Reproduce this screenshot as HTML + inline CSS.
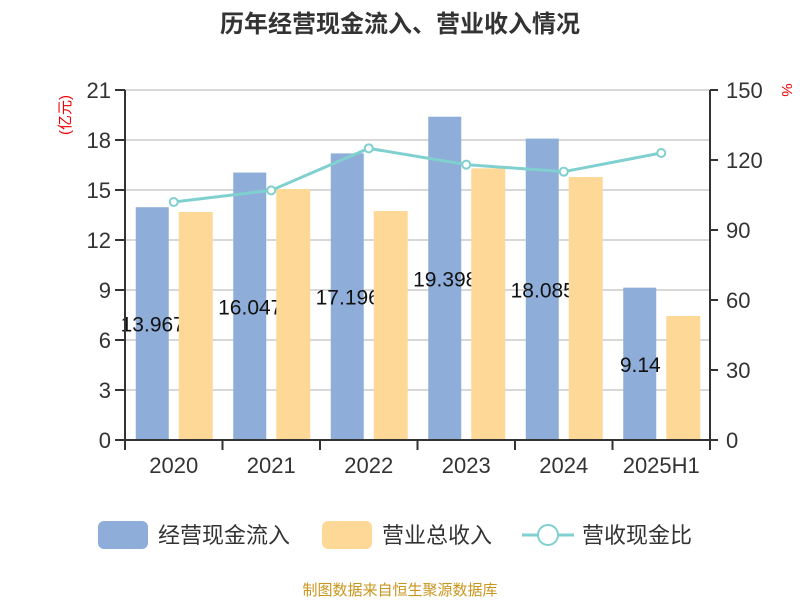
<!DOCTYPE html>
<html><head><meta charset="utf-8"><style>body{margin:0;background:#fff}svg{display:block;font-family:"Liberation Sans","Noto Sans CJK SC",sans-serif}</style></head>
<body>
<svg id="c" width="800" height="600">
<text x="400" y="32" text-anchor="middle" font-size="24" font-weight="bold" fill="#333">历年经营现金流入、营业收入情况</text>
<text transform="translate(70,115) rotate(-90)" text-anchor="middle" font-size="15" fill="#e00">(亿元)</text>
<text transform="translate(782,90) rotate(90)" text-anchor="middle" font-size="15" fill="#e00">%</text>
<g id="grid"></g><g id="bars"></g><g id="line"></g><g id="axes"></g>
<g>
<rect x="98" y="521" width="50" height="28" rx="6" fill="#8eadd9"/>
<text x="158" y="543" font-size="22" fill="#333">经营现金流入</text>
<rect x="322" y="521" width="50" height="28" rx="6" fill="#fed897"/>
<text x="382" y="543" font-size="22" fill="#333">营业总收入</text>
<line x1="522" y1="535" x2="574" y2="535" stroke="#80d0d0" stroke-width="3"/>
<circle cx="548" cy="535" r="10" fill="#fff" stroke="#80d0d0" stroke-width="2"/>
<text x="582" y="543" font-size="22" fill="#333">营收现金比</text>
</g>
<text x="400" y="595" text-anchor="middle" font-size="15" fill="#c8961e">制图数据来自恒生聚源数据库</text>
</svg>
<script>
const categories=["2020","2021","2022","2023","2024","2025H1"];
const cashInflow=[13.967,16.047,17.196,19.398,18.085,9.14];
const cashLabels=["13.967","16.047","17.196","19.398","18.085","9.14"];
const revenue=[13.68,15.06,13.74,16.3,15.78,7.44];
const ratio=[102,107,125,118,115,123];
const leftTicks=[0,3,6,9,12,15,18,21];
const rightTicks=[0,30,60,90,120,150];
const NS="http://www.w3.org/2000/svg";
const X0=125,X1=710,Y0=440,Y1=90;
const bw=(X1-X0)/categories.length;
const yL=v=>Y0-v/21*(Y0-Y1);
const yR=v=>Y0-v/150*(Y0-Y1);
const xc=i=>X0+bw*(i+0.5);
function mk(p,t,a){const e=document.createElementNS(NS,t);for(const k in a)e.setAttribute(k,a[k]);document.getElementById(p).appendChild(e);return e;}
leftTicks.forEach(v=>{
 if(v>0){const g=mk("grid","line",{x1:X0,x2:X1,y1:yL(v),y2:yL(v),stroke:"#ccc","stroke-width":1.5});
 
 }
 const t=mk("axes","line",{x1:X0-10,x2:X0,y1:yL(v),y2:yL(v),stroke:"#333","stroke-width":2});
 
 
 const l=mk("axes","text",{x:X0-14,y:yL(v)+8,"text-anchor":"end","font-size":22,fill:"#333"});l.textContent=v;
 
 
});
rightTicks.forEach(v=>{
 const t=mk("axes","line",{x1:X1,x2:X1+8,y1:yR(v),y2:yR(v),stroke:"#333","stroke-width":2});
 
 
 const l=mk("axes","text",{x:X1+16,y:yR(v)+8,"font-size":22,fill:"#333"});l.textContent=v;
 
 
});
categories.forEach((c,i)=>{
 const b=mk("bars","rect",{x:xc(i)-38,y:yL(cashInflow[i]),width:33,height:Y0-yL(cashInflow[i]),fill:"#8eadd9"});
 
 
 const l=mk("bars","text",{x:xc(i)-21,y:(yL(cashInflow[i])+Y0)/2+8,"text-anchor":"middle","font-size":21,fill:"#111"});l.textContent=cashLabels[i];
 
 
});
categories.forEach((c,i)=>{
 const b=mk("bars","rect",{x:xc(i)+5,y:yL(revenue[i]),width:34,height:Y0-yL(revenue[i]),fill:"#fed897"});
 
 
 const t=mk("axes","line",{x1:X0+bw*i,x2:X0+bw*i,y1:Y0,y2:Y0+10,stroke:"#333","stroke-width":2});
 
 
 const l=mk("axes","text",{x:xc(i),y:Y0+33,"text-anchor":"middle","font-size":22,fill:"#333"});l.textContent=c;
 
 
});
const pl=mk("line","polyline",{points:ratio.map((v,i)=>xc(i)+","+yR(v)).join(" "),fill:"none",stroke:"#80d0d0","stroke-width":3});


ratio.forEach((v,i)=>{
 const p=mk("line","circle",{cx:xc(i),cy:yR(v),r:4,fill:"#fff",stroke:"#80d0d0","stroke-width":2});
 
 
});
[[X0,Y1,X0,Y0],[X1,Y1,X1,Y0],[X0,Y0,X1,Y0]].forEach((a,k)=>{
 const e=mk("axes","line",{x1:a[0],y1:a[1],x2:a[2],y2:a[3],stroke:"#333","stroke-width":2});
 
 
});
mk("axes","line",{x1:X1,x2:X1,y1:Y0,y2:Y0+10,stroke:"#333","stroke-width":2});
</script>
</body></html>
